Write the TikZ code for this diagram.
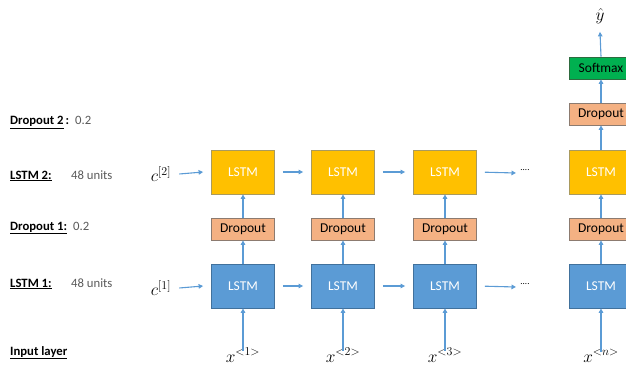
\documentclass[tikz,border=0pt]{standalone}
\usepackage{fontspec}
\setmainfont{Carlito}
\usetikzlibrary{arrows.meta}
\definecolor{lblue}{HTML}{5B9BD5}
\definecolor{bblue}{HTML}{41719C}
\definecolor{yfill}{HTML}{FFC000}
\definecolor{ydraw}{HTML}{A99A5E}
\definecolor{ofill}{HTML}{F4B183}
\definecolor{odraw}{HTML}{8C7B70}
\definecolor{gfill}{HTML}{00B050}
\definecolor{gdraw}{HTML}{2E6B3F}
\definecolor{graytxt}{HTML}{595959}
\begin{document}
\begin{tikzpicture}[x=1pt,y=-1pt,
  lstmtop/.style={draw=ydraw,fill=yfill,line width=0.8pt,minimum width=63pt,minimum height=44pt,inner sep=0pt,text=white,font=\fontsize{13.5}{15}\selectfont},
  lstmbot/.style={draw=bblue,fill=lblue,line width=0.8pt,minimum width=63pt,minimum height=44pt,inner sep=0pt,text=white,font=\fontsize{13.5}{15}\selectfont},
  dropbox/.style={draw=odraw,fill=ofill,line width=0.8pt,minimum width=63pt,minimum height=22pt,inner sep=0pt,text=black,font=\fontsize{13.5}{15}\selectfont},
  softbox/.style={draw=gdraw,fill=gfill,line width=0.8pt,minimum width=63pt,minimum height=22pt,inner sep=0pt,text=black,font=\fontsize{13.5}{15}\selectfont},
  conn/.style={draw=lblue,line width=1.1pt,-{Triangle[length=4.5pt,width=4.5pt]}},
  hconn/.style={conn,shorten >=8pt,shorten <=8pt},
  lab/.style={anchor=base west,inner sep=0pt,font=\fontsize{12.7}{14}\selectfont\bfseries},
  val/.style={anchor=base west,inner sep=0pt,text=graytxt,font=\fontsize{12.7}{14}\selectfont},
  mth/.style={inner sep=0pt,font=\fontsize{18}{20}\selectfont}
]
\useasboundingbox (0,0) rectangle (626,366);

% left labels
\node[lab] (ld2) at (10,125) {\underline{Dropout 2}\,:};
\node[val] (vd2) at (75,125) {0.2};
\node[lab] (ll2) at (10,179) {\underline{LSTM 2:}};
\node[val] (vl2) at (71,179) {48 units};
\node[lab] (ld1) at (10,230) {\underline{Dropout 1:}};
\node[val] (vd1) at (73,230) {0.2};
\node[lab] (ll1) at (10,287) {\underline{LSTM 1:}};
\node[val] (vl1) at (71,287) {48 units};
\node[lab] (lin) at (10,355) {\underline{Input layer}};

% initial states
\node[mth] (c2) at (161,174) {$c^{[2]}$};
\node[mth] (c1) at (161,288) {$c^{[1]}$};

% columns
\foreach \i/\cx in {1/243,2/343,3/445,4/601}{
  \node[lstmtop] (t\i) at (\cx,172) {LSTM};
  \node[dropbox] (d\i) at (\cx,229) {Dropout};
  \node[lstmbot] (b\i) at (\cx,286) {LSTM};
}
\node[mth,anchor=base] (x1) at (243,362) {$x^{<1>}$};
\node[mth,anchor=base] (x2) at (343,362) {$x^{<2>}$};
\node[mth,anchor=base] (x3) at (445,362) {$x^{<3>}$};
\node[mth,anchor=base] (x4) at (601,362) {$x^{<n>}$};

\node[dropbox] (d5) at (601,114) {Dropout};
\node[softbox] (s) at (601,68) {Softmax};
\node[mth] (yh) at (600,16) {$\hat{y}$};

% dots
\node[inner sep=0pt,font=\fontsize{9}{10}\selectfont] (dt) at (525,170) {....};
\node[inner sep=0pt,font=\fontsize{9}{10}\selectfont] (db) at (525,284) {....};
\coordinate (et) at (516,173);
\coordinate (eb) at (516,287);

% vertical connectors
\foreach \i in {1,2,3,4}{
  \draw[conn] ([yshift=-3pt]x\i.north) -- (b\i.south);
  \draw[conn] (b\i.north) -- (d\i.south);
  \draw[conn] (d\i.north) -- (t\i.south);
}
\draw[conn] (t4.north) -- (d5.south);
\draw[conn] (d5.north) -- (s.south);
\draw[conn] (s.north) -- ([yshift=-8pt]yh.south);

% horizontal connectors
\draw[conn] ([xshift=8pt]c2.east) -- ([xshift=-8pt]t1.west);
\draw[conn] ([xshift=8pt]c1.east) -- ([xshift=-8pt]b1.west);
\draw[hconn] (t1.east) -- (t2.west);
\draw[hconn] (t2.east) -- (t3.west);
\draw[hconn] (b1.east) -- (b2.west);
\draw[hconn] (b2.east) -- (b3.west);
\draw[conn,shorten <=8pt] (t3.east) -- (et);
\draw[conn,shorten <=8pt] (b3.east) -- (eb);
\end{tikzpicture}
\end{document}
